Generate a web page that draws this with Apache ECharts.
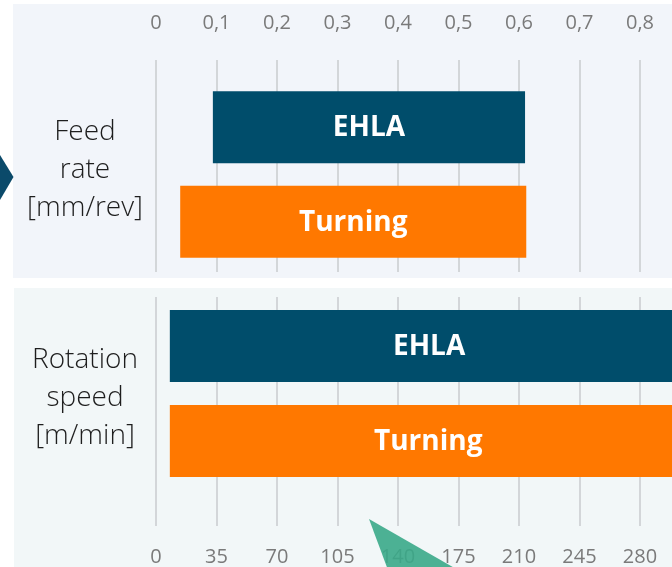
<!DOCTYPE html>
<html>
<head>
<meta charset="utf-8">
<script src="https://cdn.jsdelivr.net/npm/echarts@6/dist/echarts.min.js"></script>
<style>
  html, body { margin: 0; padding: 0; background: #ffffff; }
  #chart { width: 672px; height: 567px; }
</style>
</head>
<body>
<div id="chart"></div>
<script>
// Process windows: EHLA vs. turning
const processes = ['EHLA', 'Turning'];

// Feed rate window [mm/rev]
const feedStart = [0.094, 0.04];
const feedEnd = [0.61, 0.612];
const feedMax = 0.9;
const feedStep = 0.1;

// Rotation speed window [m/min]
const speedStart = [8, 8];
const speedEnd = [308, 307];
const speedMax = 315;
const speedStep = 35;

const panelTitles = ['Feed\nrate\n[mm/rev]', 'Rotation\nspeed\n[m/min]'];

const barColors = ['#004d6b', '#ff7800'];
const tickColor = '#7a7a7a';
const gridColor = '#d3d6d9';
const fontFamily = '"Open Sans", "Noto Sans", sans-serif';

const chart = echarts.init(document.getElementById('chart'));

function span(starts, ends) {
  return starts.map((s, i) => +(ends[i] - s).toFixed(4));
}

function tickFormatter(v) {
  return String(+v.toFixed(2)).replace('.', ',');
}

// The plot runs on past the right edge of the page; one step is 60.5 px
const lineGrid = (top, height) => ({ left: 156, width: 544.5, top, height, outerBoundsMode: 'none', containLabel: false });

function rangeSeries(xIdx, yIdx, starts, ends, stackName) {
  return [
    {
      type: 'bar', xAxisIndex: xIdx, yAxisIndex: yIdx, stack: stackName,
      data: starts, itemStyle: { color: 'transparent' }, silent: true,
      barCategoryGap: '24%'
    },
    {
      type: 'bar', xAxisIndex: xIdx, yAxisIndex: yIdx, stack: stackName,
      data: span(starts, ends).map((v, i) => ({ value: v, itemStyle: { color: barColors[i] } })),
      barCategoryGap: '24%',
      label: {
        show: true, position: 'inside', offset: [0, 1],
        formatter: p => processes[p.dataIndex],
        color: '#ffffff', fontSize: 28, fontWeight: 'bold', fontFamily
      }
    }
  ];
}

const titleStyle = {
  fill: '#1e1e1e', fontSize: 28, fontWeight: 300, fontFamily,
  lineHeight: 38, align: 'center', verticalAlign: 'middle'
};

const option = {
  backgroundColor: '#ffffff',
  animation: false,
  grid: [
    lineGrid(60, 212),      // feed rate gridlines
    lineGrid(80, 189),      // feed rate bars
    lineGrid(297, 229),     // rotation speed gridlines
    lineGrid(298.5, 190)    // rotation speed bars
  ],
  xAxis: [
    {
      gridIndex: 0, type: 'value', min: 0, max: feedMax, interval: feedStep, position: 'top',
      axisLine: { show: false }, axisTick: { show: false },
      axisLabel: { color: tickColor, fontSize: 20, fontFamily, margin: 27, formatter: tickFormatter },
      splitLine: { lineStyle: { color: gridColor, width: 2 } }
    },
    { gridIndex: 1, type: 'value', min: 0, max: feedMax, show: false, splitLine: { show: false } },
    {
      gridIndex: 2, type: 'value', min: 0, max: speedMax, interval: speedStep, position: 'bottom',
      axisLine: { show: false }, axisTick: { show: false },
      axisLabel: { color: tickColor, fontSize: 20, fontFamily, margin: 21, formatter: tickFormatter },
      splitLine: { lineStyle: { color: gridColor, width: 2 } }
    },
    { gridIndex: 3, type: 'value', min: 0, max: speedMax, show: false, splitLine: { show: false } }
  ],
  yAxis: [
    { gridIndex: 0, type: 'value', show: false, splitLine: { show: false } },
    { gridIndex: 1, type: 'category', data: processes, inverse: true, show: false },
    { gridIndex: 2, type: 'value', show: false, splitLine: { show: false } },
    { gridIndex: 3, type: 'category', data: processes, inverse: true, show: false }
  ],
  series: [
    ...rangeSeries(1, 1, feedStart, feedEnd, 'feed'),
    ...rangeSeries(3, 3, speedStart, speedEnd, 'speed')
  ],
  graphic: [
    {
      type: 'group', z: -10, silent: true,
      children: [
        { type: 'rect', shape: { x: 13, y: 4, width: 659, height: 274 }, style: { fill: '#f2f5fa' } },
        { type: 'rect', shape: { x: 14, y: 288, width: 658, height: 279 }, style: { fill: '#f2f7f8' } },
        { type: 'polygon', shape: { points: [[0, 155], [13.5, 177], [0, 200]] }, style: { fill: '#0b4a6a' } }
      ]
    },
    { type: 'text', silent: true, x: 85, y: 170, style: Object.assign({ text: panelTitles[0] }, titleStyle) },
    { type: 'text', silent: true, x: 85, y: 398, style: Object.assign({ text: panelTitles[1] }, titleStyle) },
    {
      type: 'polygon', z: 100, silent: true,
      shape: { points: [[369, 519], [388, 570], [458, 570]] },
      style: { fill: 'rgba(58, 168, 136, 0.9)' }
    }
  ]
};

chart.setOption(option);
</script>
</body>
</html>
